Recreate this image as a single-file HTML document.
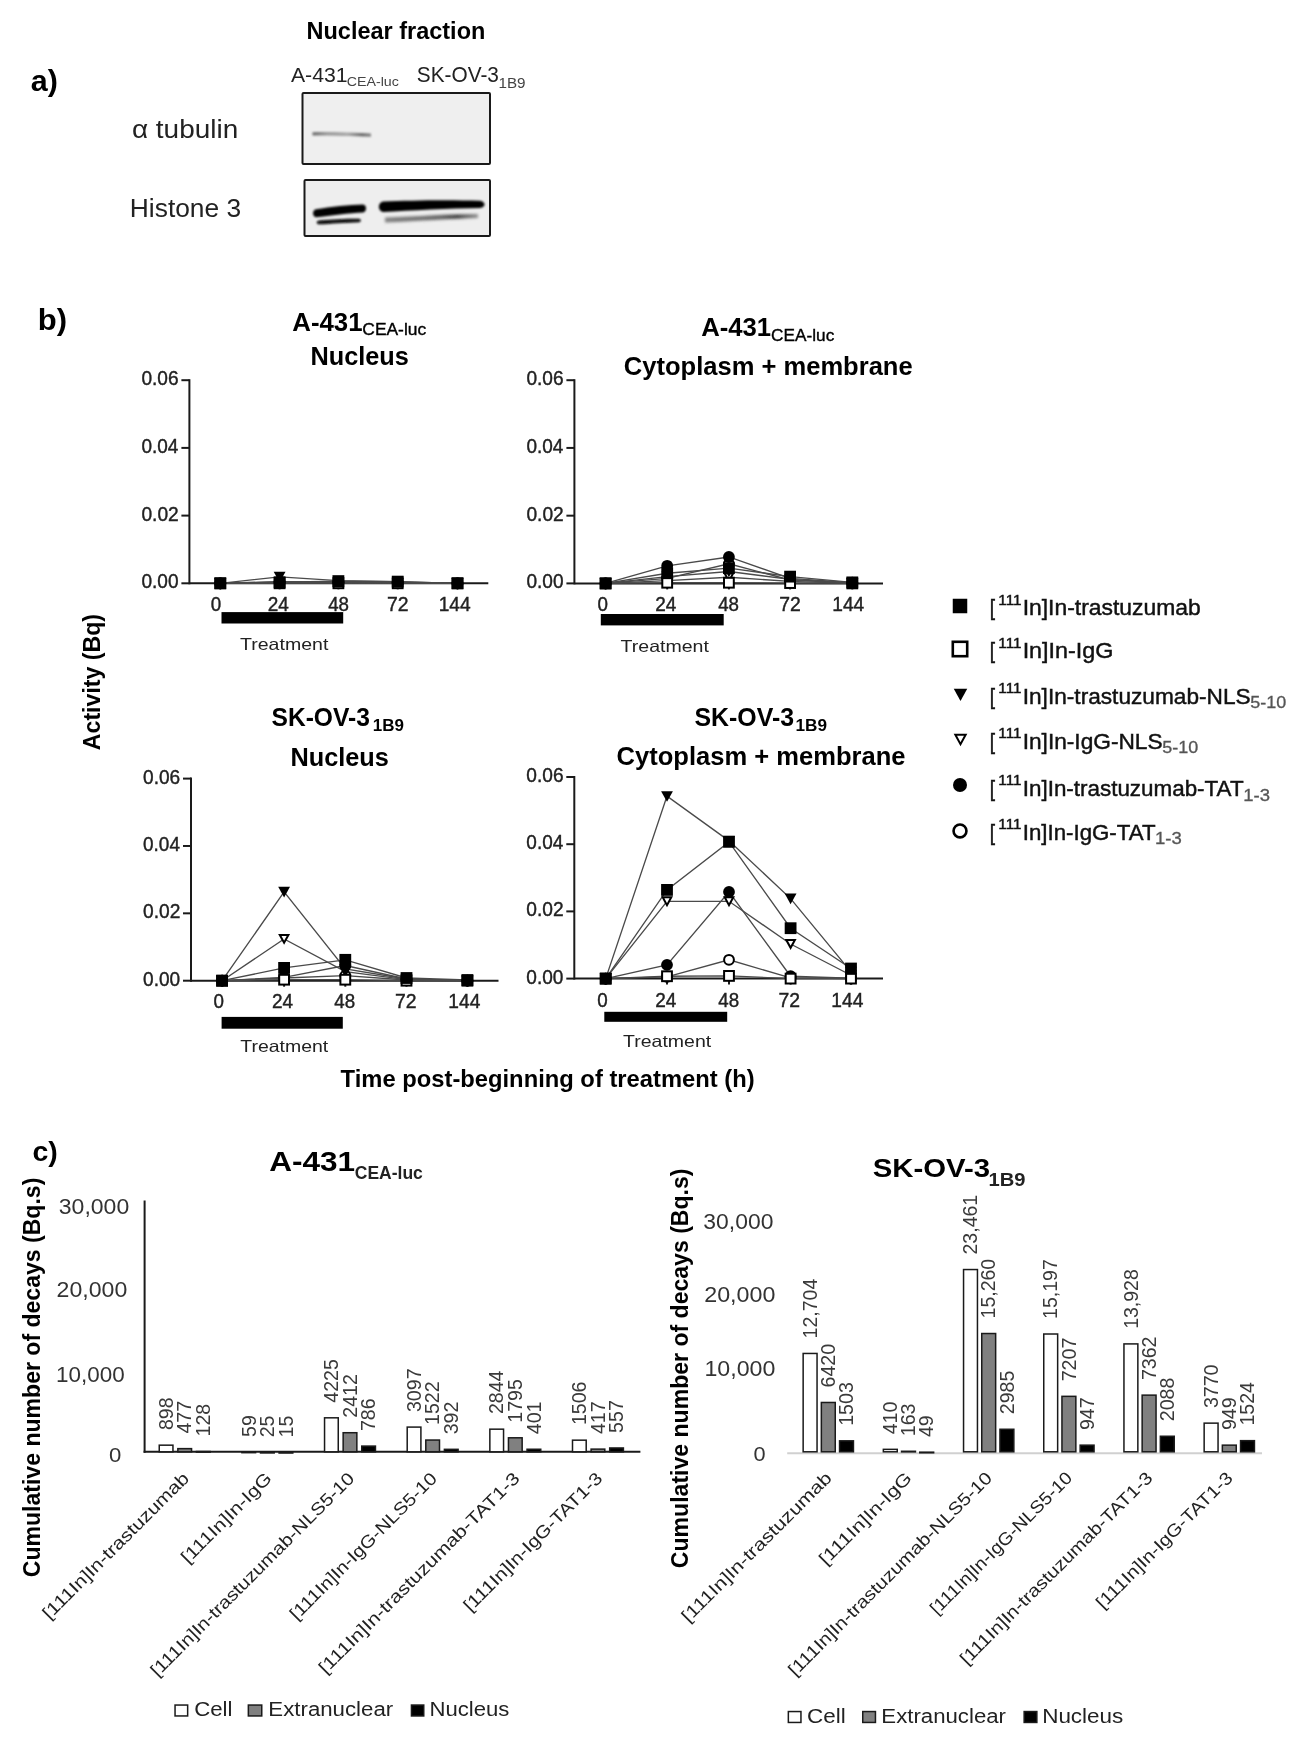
<!DOCTYPE html><html><head><meta charset="utf-8"><style>html,body{margin:0;padding:0;background:#fff;}svg{display:block;filter:grayscale(1)}text{font-family:"Liberation Sans", sans-serif;}</style></head><body>
<svg width="1307" height="1751" viewBox="0 0 1307 1751">
<defs><filter id="b1" x="-20%" y="-100%" width="140%" height="300%"><feGaussianBlur stdDeviation="1.2"/></filter><filter id="b2" x="-20%" y="-100%" width="140%" height="300%"><feGaussianBlur stdDeviation="0.8"/></filter><filter id="b3" x="-20%" y="-100%" width="140%" height="300%"><feGaussianBlur stdDeviation="1.25"/></filter><filter id="b4" x="-20%" y="-100%" width="140%" height="300%"><feGaussianBlur stdDeviation="1.6"/></filter></defs>
<rect width="1307" height="1751" fill="#fff"/>
<text x="306.53" y="38.70" font-size="23.5" font-weight="bold" fill="#000" textLength="178.83" lengthAdjust="spacingAndGlyphs">Nuclear fraction</text>
<text x="30.81" y="90.80" font-size="29.5" font-weight="bold" fill="#000" textLength="27.11" lengthAdjust="spacingAndGlyphs">a)</text>
<text x="290.96" y="81.60" font-size="20.3" fill="#222" textLength="56.68" lengthAdjust="spacingAndGlyphs">A-431</text>
<text x="346.78" y="85.60" font-size="13.5" fill="#444" textLength="52.10" lengthAdjust="spacingAndGlyphs">CEA-luc</text>
<text x="416.77" y="82.20" font-size="21.5" fill="#222" textLength="82.13" lengthAdjust="spacingAndGlyphs">SK-OV-3</text>
<text x="498.44" y="87.60" font-size="14" fill="#444" textLength="27.08" lengthAdjust="spacingAndGlyphs">1B9</text>
<text x="131.93" y="138.30" font-size="26" fill="#222" textLength="106.29" lengthAdjust="spacingAndGlyphs">α tubulin</text>
<text x="129.84" y="217.00" font-size="25.3" fill="#222" textLength="111.32" lengthAdjust="spacingAndGlyphs">Histone 3</text>
<rect x="302.5" y="93" width="187.5" height="71" fill="#efefef" stroke="#1a1a1a" stroke-width="2" rx="1"/>
<rect x="304.5" y="180" width="185.5" height="56" fill="#eeeeee" stroke="#1a1a1a" stroke-width="2" rx="1"/>
<defs><linearGradient id="tg" x1="0" x2="1" y1="0" y2="0"><stop offset="0" stop-color="#6a6a6a"/><stop offset="0.25" stop-color="#9a9a9a"/><stop offset="0.6" stop-color="#a8a8a8"/><stop offset="0.85" stop-color="#6a6a6a"/><stop offset="1" stop-color="#888"/></linearGradient><linearGradient id="lg2" x1="0" x2="1" y1="0" y2="0"><stop offset="0" stop-color="#777"/><stop offset="0.6" stop-color="#555"/><stop offset="0.78" stop-color="#2a2a2a"/><stop offset="1" stop-color="#888"/></linearGradient></defs>
<g filter="url(#b1)"><path d="M312.5,132.2 C330,131.8 355,132.6 371,133.6 L371,136.8 C355,136.4 330,135.8 312.5,135.6 Z" fill="url(#tg)"/></g>
<g filter="url(#b3)"><path d="M316,209.2 C330,206.8 350,204.6 363,204.4 C367,204.7 367,212 363,212.4 C350,213 330,215.5 316,217.3 C312,216.3 312,210.2 316,209.2 Z" fill="#000"/><path d="M319,220.4 C335,219.2 350,218.6 359,218.8 C361.5,219.2 361.5,222 359,222.2 C345,222.8 330,223.8 319,224.3 C316,223.9 316,220.8 319,220.4 Z" fill="#080808"/><path d="M383,201.5 C410,200.3 450,199.5 480,200.8 C486,201.5 486,207.8 480,208 C450,208.3 410,210.5 383,212 C377.5,211 377.5,202.5 383,201.5 Z" fill="#000"/></g>
<g filter="url(#b4)"><path d="M385,217.6 C420,216.2 450,214.2 478,214.0 L478,218.0 C450,218.6 420,221.0 385,222.6 Z" fill="url(#lg2)" opacity="0.9"/></g>
<text x="37.85" y="330.00" font-size="30" font-weight="bold" fill="#000" textLength="29.29" lengthAdjust="spacingAndGlyphs">b)</text>
<line x1="189.4" y1="379.2" x2="189.4" y2="584.3" stroke="#1a1a1a" stroke-width="2"/>
<line x1="181.4" y1="583.30" x2="189.4" y2="583.30" stroke="#1a1a1a" stroke-width="2"/>
<text x="141.46" y="588.30" font-size="19.5" fill="#222" textLength="37.09" lengthAdjust="spacingAndGlyphs" stroke="#222" stroke-width="0.4">0.00</text>
<line x1="181.4" y1="515.60" x2="189.4" y2="515.60" stroke="#1a1a1a" stroke-width="2"/>
<text x="141.45" y="520.60" font-size="19.5" fill="#222" textLength="37.31" lengthAdjust="spacingAndGlyphs" stroke="#222" stroke-width="0.4">0.02</text>
<line x1="181.4" y1="447.90" x2="189.4" y2="447.90" stroke="#1a1a1a" stroke-width="2"/>
<text x="141.46" y="452.90" font-size="19.5" fill="#222" textLength="36.90" lengthAdjust="spacingAndGlyphs" stroke="#222" stroke-width="0.4">0.04</text>
<line x1="181.4" y1="380.20" x2="189.4" y2="380.20" stroke="#1a1a1a" stroke-width="2"/>
<text x="141.45" y="385.20" font-size="19.5" fill="#222" textLength="37.19" lengthAdjust="spacingAndGlyphs" stroke="#222" stroke-width="0.4">0.06</text>
<line x1="189.4" y1="583.3" x2="488.3" y2="583.3" stroke="#1a1a1a" stroke-width="2"/>
<line x1="220.3" y1="583.3" x2="220.3" y2="589.3" stroke="#1a1a1a" stroke-width="2"/>
<line x1="279.6" y1="583.3" x2="279.6" y2="589.3" stroke="#1a1a1a" stroke-width="2"/>
<line x1="338.4" y1="583.3" x2="338.4" y2="589.3" stroke="#1a1a1a" stroke-width="2"/>
<line x1="397.7" y1="583.3" x2="397.7" y2="589.3" stroke="#1a1a1a" stroke-width="2"/>
<line x1="457.5" y1="583.3" x2="457.5" y2="589.3" stroke="#1a1a1a" stroke-width="2"/>
<text x="210.76" y="611.20" font-size="19.5" fill="#222" textLength="10.47" lengthAdjust="spacingAndGlyphs" stroke="#222" stroke-width="0.4">0</text>
<text x="267.65" y="611.20" font-size="19.5" fill="#222" textLength="21.11" lengthAdjust="spacingAndGlyphs" stroke="#222" stroke-width="0.4">24</text>
<text x="328.17" y="611.20" font-size="19.5" fill="#222" textLength="20.84" lengthAdjust="spacingAndGlyphs" stroke="#222" stroke-width="0.4">48</text>
<text x="386.91" y="611.20" font-size="19.5" fill="#222" textLength="21.57" lengthAdjust="spacingAndGlyphs" stroke="#222" stroke-width="0.4">72</text>
<text x="438.64" y="611.20" font-size="19.5" fill="#222" textLength="32.02" lengthAdjust="spacingAndGlyphs" stroke="#222" stroke-width="0.4">144</text>
<polyline points="220.30,583.30 279.60,582.28 338.40,581.27 397.70,581.61 457.50,583.30" fill="none" stroke="#4a4a4a" stroke-width="1.35"/>
<polyline points="220.30,583.30 279.60,583.30 338.40,583.30 397.70,583.30 457.50,583.30" fill="none" stroke="#4a4a4a" stroke-width="1.35"/>
<polyline points="220.30,583.30 279.60,576.87 338.40,580.59 397.70,581.61 457.50,583.30" fill="none" stroke="#4a4a4a" stroke-width="1.35"/>
<polyline points="220.30,583.30 279.60,582.28 338.40,582.62 397.70,582.96 457.50,583.30" fill="none" stroke="#4a4a4a" stroke-width="1.35"/>
<polyline points="220.30,583.30 279.60,581.61 338.40,581.95 397.70,582.62 457.50,583.30" fill="none" stroke="#4a4a4a" stroke-width="1.35"/>
<polyline points="220.30,583.30 279.60,582.62 338.40,582.62 397.70,582.96 457.50,583.30" fill="none" stroke="#4a4a4a" stroke-width="1.35"/>
<circle cx="220.30" cy="583.30" r="4.9" fill="#fff" stroke="#000" stroke-width="2"/>
<circle cx="279.60" cy="582.62" r="4.9" fill="#fff" stroke="#000" stroke-width="2"/>
<circle cx="338.40" cy="582.62" r="4.9" fill="#fff" stroke="#000" stroke-width="2"/>
<circle cx="397.70" cy="582.96" r="4.9" fill="#fff" stroke="#000" stroke-width="2"/>
<circle cx="457.50" cy="583.30" r="4.9" fill="#fff" stroke="#000" stroke-width="2"/>
<circle cx="220.30" cy="583.30" r="5.9" fill="#000"/>
<circle cx="279.60" cy="581.61" r="5.9" fill="#000"/>
<circle cx="338.40" cy="581.95" r="5.9" fill="#000"/>
<circle cx="397.70" cy="582.62" r="5.9" fill="#000"/>
<circle cx="457.50" cy="583.30" r="5.9" fill="#000"/>
<path d="M216.00,579.28 L224.60,579.28 L220.30,587.11 Z" fill="#fff" stroke="#000" stroke-width="2" stroke-linejoin="miter"/>
<path d="M275.30,578.27 L283.90,578.27 L279.60,586.09 Z" fill="#fff" stroke="#000" stroke-width="2" stroke-linejoin="miter"/>
<path d="M334.10,578.61 L342.70,578.61 L338.40,586.43 Z" fill="#fff" stroke="#000" stroke-width="2" stroke-linejoin="miter"/>
<path d="M393.40,578.95 L402.00,578.95 L397.70,586.77 Z" fill="#fff" stroke="#000" stroke-width="2" stroke-linejoin="miter"/>
<path d="M453.20,579.28 L461.80,579.28 L457.50,587.11 Z" fill="#fff" stroke="#000" stroke-width="2" stroke-linejoin="miter"/>
<path d="M214.40,578.28 L226.20,578.28 L220.30,588.90 Z" fill="#000"/>
<path d="M273.70,571.85 L285.50,571.85 L279.60,582.47 Z" fill="#000"/>
<path d="M332.50,575.58 L344.30,575.58 L338.40,586.20 Z" fill="#000"/>
<path d="M391.80,576.59 L403.60,576.59 L397.70,587.21 Z" fill="#000"/>
<path d="M451.60,578.28 L463.40,578.28 L457.50,588.90 Z" fill="#000"/>
<rect x="215.40" y="578.40" width="9.8" height="9.8" fill="#fff" stroke="#000" stroke-width="2"/>
<rect x="274.70" y="578.40" width="9.8" height="9.8" fill="#fff" stroke="#000" stroke-width="2"/>
<rect x="333.50" y="578.40" width="9.8" height="9.8" fill="#fff" stroke="#000" stroke-width="2"/>
<rect x="392.80" y="578.40" width="9.8" height="9.8" fill="#fff" stroke="#000" stroke-width="2"/>
<rect x="452.60" y="578.40" width="9.8" height="9.8" fill="#fff" stroke="#000" stroke-width="2"/>
<rect x="214.40" y="577.40" width="11.8" height="11.8" fill="#000"/>
<rect x="273.70" y="576.38" width="11.8" height="11.8" fill="#000"/>
<rect x="332.50" y="575.37" width="11.8" height="11.8" fill="#000"/>
<rect x="391.80" y="575.71" width="11.8" height="11.8" fill="#000"/>
<rect x="451.60" y="577.40" width="11.8" height="11.8" fill="#000"/>
<rect x="221.5" y="612.1" width="121.70" height="11.40" fill="#000"/>
<text x="240.06" y="649.60" font-size="16.5" fill="#222" textLength="88.28" lengthAdjust="spacingAndGlyphs">Treatment</text>
<line x1="574.4" y1="379.2" x2="574.4" y2="584.4" stroke="#1a1a1a" stroke-width="2"/>
<line x1="566.4" y1="583.40" x2="574.4" y2="583.40" stroke="#1a1a1a" stroke-width="2"/>
<text x="526.46" y="588.40" font-size="19.5" fill="#222" textLength="37.09" lengthAdjust="spacingAndGlyphs" stroke="#222" stroke-width="0.4">0.00</text>
<line x1="566.4" y1="515.67" x2="574.4" y2="515.67" stroke="#1a1a1a" stroke-width="2"/>
<text x="526.45" y="520.67" font-size="19.5" fill="#222" textLength="37.31" lengthAdjust="spacingAndGlyphs" stroke="#222" stroke-width="0.4">0.02</text>
<line x1="566.4" y1="447.93" x2="574.4" y2="447.93" stroke="#1a1a1a" stroke-width="2"/>
<text x="526.46" y="452.93" font-size="19.5" fill="#222" textLength="36.90" lengthAdjust="spacingAndGlyphs" stroke="#222" stroke-width="0.4">0.04</text>
<line x1="566.4" y1="380.20" x2="574.4" y2="380.20" stroke="#1a1a1a" stroke-width="2"/>
<text x="526.45" y="385.20" font-size="19.5" fill="#222" textLength="37.19" lengthAdjust="spacingAndGlyphs" stroke="#222" stroke-width="0.4">0.06</text>
<line x1="574.4" y1="583.4" x2="883" y2="583.4" stroke="#1a1a1a" stroke-width="2"/>
<line x1="605.6" y1="583.4" x2="605.6" y2="589.4" stroke="#1a1a1a" stroke-width="2"/>
<line x1="667.2" y1="583.4" x2="667.2" y2="589.4" stroke="#1a1a1a" stroke-width="2"/>
<line x1="728.9" y1="583.4" x2="728.9" y2="589.4" stroke="#1a1a1a" stroke-width="2"/>
<line x1="790.1" y1="583.4" x2="790.1" y2="589.4" stroke="#1a1a1a" stroke-width="2"/>
<line x1="852.3" y1="583.4" x2="852.3" y2="589.4" stroke="#1a1a1a" stroke-width="2"/>
<text x="597.46" y="610.70" font-size="19.5" fill="#222" textLength="10.47" lengthAdjust="spacingAndGlyphs" stroke="#222" stroke-width="0.4">0</text>
<text x="655.25" y="610.70" font-size="19.5" fill="#222" textLength="21.11" lengthAdjust="spacingAndGlyphs" stroke="#222" stroke-width="0.4">24</text>
<text x="718.17" y="610.70" font-size="19.5" fill="#222" textLength="20.84" lengthAdjust="spacingAndGlyphs" stroke="#222" stroke-width="0.4">48</text>
<text x="779.31" y="610.70" font-size="19.5" fill="#222" textLength="21.57" lengthAdjust="spacingAndGlyphs" stroke="#222" stroke-width="0.4">72</text>
<text x="832.24" y="610.70" font-size="19.5" fill="#222" textLength="32.02" lengthAdjust="spacingAndGlyphs" stroke="#222" stroke-width="0.4">144</text>
<polyline points="605.60,583.40 667.20,573.24 728.90,568.16 790.10,576.63 852.30,582.38" fill="none" stroke="#4a4a4a" stroke-width="1.35"/>
<polyline points="605.60,583.40 667.20,582.72 728.90,582.72 790.10,583.06 852.30,583.40" fill="none" stroke="#4a4a4a" stroke-width="1.35"/>
<polyline points="605.60,583.40 667.20,576.63 728.90,571.55 790.10,579.34 852.30,583.06" fill="none" stroke="#4a4a4a" stroke-width="1.35"/>
<polyline points="605.60,583.40 667.20,580.69 728.90,577.30 790.10,581.37 852.30,583.40" fill="none" stroke="#4a4a4a" stroke-width="1.35"/>
<polyline points="605.60,583.40 667.20,565.79 728.90,556.98 790.10,578.32 852.30,582.72" fill="none" stroke="#4a4a4a" stroke-width="1.35"/>
<polyline points="605.60,583.40 667.20,578.32 728.90,563.76 790.10,580.01 852.30,583.06" fill="none" stroke="#4a4a4a" stroke-width="1.35"/>
<circle cx="605.60" cy="583.40" r="4.9" fill="#fff" stroke="#000" stroke-width="2"/>
<circle cx="667.20" cy="578.32" r="4.9" fill="#fff" stroke="#000" stroke-width="2"/>
<circle cx="728.90" cy="563.76" r="4.9" fill="#fff" stroke="#000" stroke-width="2"/>
<circle cx="790.10" cy="580.01" r="4.9" fill="#fff" stroke="#000" stroke-width="2"/>
<circle cx="852.30" cy="583.06" r="4.9" fill="#fff" stroke="#000" stroke-width="2"/>
<circle cx="605.60" cy="583.40" r="5.9" fill="#000"/>
<circle cx="667.20" cy="565.79" r="5.9" fill="#000"/>
<circle cx="728.90" cy="556.98" r="5.9" fill="#000"/>
<circle cx="790.10" cy="578.32" r="5.9" fill="#000"/>
<circle cx="852.30" cy="582.72" r="5.9" fill="#000"/>
<path d="M601.30,579.38 L609.90,579.38 L605.60,587.21 Z" fill="#fff" stroke="#000" stroke-width="2" stroke-linejoin="miter"/>
<path d="M662.90,576.68 L671.50,576.68 L667.20,584.50 Z" fill="#fff" stroke="#000" stroke-width="2" stroke-linejoin="miter"/>
<path d="M724.60,573.29 L733.20,573.29 L728.90,581.11 Z" fill="#fff" stroke="#000" stroke-width="2" stroke-linejoin="miter"/>
<path d="M785.80,577.35 L794.40,577.35 L790.10,585.17 Z" fill="#fff" stroke="#000" stroke-width="2" stroke-linejoin="miter"/>
<path d="M848.00,579.38 L856.60,579.38 L852.30,587.21 Z" fill="#fff" stroke="#000" stroke-width="2" stroke-linejoin="miter"/>
<path d="M599.70,578.38 L611.50,578.38 L605.60,589.00 Z" fill="#000"/>
<path d="M661.30,571.61 L673.10,571.61 L667.20,582.23 Z" fill="#000"/>
<path d="M723.00,566.53 L734.80,566.53 L728.90,577.15 Z" fill="#000"/>
<path d="M784.20,574.32 L796.00,574.32 L790.10,584.94 Z" fill="#000"/>
<path d="M846.40,578.05 L858.20,578.05 L852.30,588.67 Z" fill="#000"/>
<rect x="600.70" y="578.50" width="9.8" height="9.8" fill="#fff" stroke="#000" stroke-width="2"/>
<rect x="662.30" y="577.82" width="9.8" height="9.8" fill="#fff" stroke="#000" stroke-width="2"/>
<rect x="724.00" y="577.82" width="9.8" height="9.8" fill="#fff" stroke="#000" stroke-width="2"/>
<rect x="785.20" y="578.16" width="9.8" height="9.8" fill="#fff" stroke="#000" stroke-width="2"/>
<rect x="847.40" y="578.50" width="9.8" height="9.8" fill="#fff" stroke="#000" stroke-width="2"/>
<rect x="599.70" y="577.50" width="11.8" height="11.8" fill="#000"/>
<rect x="661.30" y="567.34" width="11.8" height="11.8" fill="#000"/>
<rect x="723.00" y="562.26" width="11.8" height="11.8" fill="#000"/>
<rect x="784.20" y="570.73" width="11.8" height="11.8" fill="#000"/>
<rect x="846.40" y="576.48" width="11.8" height="11.8" fill="#000"/>
<rect x="600.8" y="614" width="122.90" height="11.40" fill="#000"/>
<text x="620.56" y="651.50" font-size="16.5" fill="#222" textLength="88.38" lengthAdjust="spacingAndGlyphs">Treatment</text>
<line x1="191" y1="777.6" x2="191" y2="981.7" stroke="#1a1a1a" stroke-width="2"/>
<line x1="183" y1="980.70" x2="191" y2="980.70" stroke="#1a1a1a" stroke-width="2"/>
<text x="143.06" y="985.70" font-size="19.5" fill="#222" textLength="37.09" lengthAdjust="spacingAndGlyphs" stroke="#222" stroke-width="0.4">0.00</text>
<line x1="183" y1="913.33" x2="191" y2="913.33" stroke="#1a1a1a" stroke-width="2"/>
<text x="143.05" y="918.33" font-size="19.5" fill="#222" textLength="37.31" lengthAdjust="spacingAndGlyphs" stroke="#222" stroke-width="0.4">0.02</text>
<line x1="183" y1="845.97" x2="191" y2="845.97" stroke="#1a1a1a" stroke-width="2"/>
<text x="143.06" y="850.97" font-size="19.5" fill="#222" textLength="36.90" lengthAdjust="spacingAndGlyphs" stroke="#222" stroke-width="0.4">0.04</text>
<line x1="183" y1="778.60" x2="191" y2="778.60" stroke="#1a1a1a" stroke-width="2"/>
<text x="143.05" y="783.60" font-size="19.5" fill="#222" textLength="37.19" lengthAdjust="spacingAndGlyphs" stroke="#222" stroke-width="0.4">0.06</text>
<line x1="191" y1="980.7" x2="498.5" y2="980.7" stroke="#1a1a1a" stroke-width="2"/>
<line x1="222.1" y1="980.7" x2="222.1" y2="986.7" stroke="#1a1a1a" stroke-width="2"/>
<line x1="284.1" y1="980.7" x2="284.1" y2="986.7" stroke="#1a1a1a" stroke-width="2"/>
<line x1="345.3" y1="980.7" x2="345.3" y2="986.7" stroke="#1a1a1a" stroke-width="2"/>
<line x1="406.5" y1="980.7" x2="406.5" y2="986.7" stroke="#1a1a1a" stroke-width="2"/>
<line x1="467.4" y1="980.7" x2="467.4" y2="986.7" stroke="#1a1a1a" stroke-width="2"/>
<text x="213.46" y="1008.40" font-size="19.5" fill="#222" textLength="10.47" lengthAdjust="spacingAndGlyphs" stroke="#222" stroke-width="0.4">0</text>
<text x="272.05" y="1008.40" font-size="19.5" fill="#222" textLength="21.11" lengthAdjust="spacingAndGlyphs" stroke="#222" stroke-width="0.4">24</text>
<text x="334.27" y="1008.40" font-size="19.5" fill="#222" textLength="20.84" lengthAdjust="spacingAndGlyphs" stroke="#222" stroke-width="0.4">48</text>
<text x="395.01" y="1008.40" font-size="19.5" fill="#222" textLength="21.57" lengthAdjust="spacingAndGlyphs" stroke="#222" stroke-width="0.4">72</text>
<text x="448.34" y="1008.40" font-size="19.5" fill="#222" textLength="32.02" lengthAdjust="spacingAndGlyphs" stroke="#222" stroke-width="0.4">144</text>
<polyline points="222.10,980.70 284.10,967.90 345.30,959.82 406.50,978.01 467.40,980.03" fill="none" stroke="#4a4a4a" stroke-width="1.35"/>
<polyline points="222.10,980.70 284.10,979.69 345.30,979.69 406.50,980.70 467.40,980.70" fill="none" stroke="#4a4a4a" stroke-width="1.35"/>
<polyline points="222.10,980.70 284.10,891.78 345.30,968.91 406.50,979.02 467.40,980.70" fill="none" stroke="#4a4a4a" stroke-width="1.35"/>
<polyline points="222.10,980.70 284.10,938.93 345.30,971.61 406.50,979.69 467.40,980.70" fill="none" stroke="#4a4a4a" stroke-width="1.35"/>
<polyline points="222.10,980.70 284.10,977.33 345.30,965.54 406.50,979.02 467.40,980.70" fill="none" stroke="#4a4a4a" stroke-width="1.35"/>
<polyline points="222.10,980.70 284.10,978.01 345.30,975.65 406.50,980.03 467.40,980.70" fill="none" stroke="#4a4a4a" stroke-width="1.35"/>
<circle cx="222.10" cy="980.70" r="4.9" fill="#fff" stroke="#000" stroke-width="2"/>
<circle cx="284.10" cy="978.01" r="4.9" fill="#fff" stroke="#000" stroke-width="2"/>
<circle cx="345.30" cy="975.65" r="4.9" fill="#fff" stroke="#000" stroke-width="2"/>
<circle cx="406.50" cy="980.03" r="4.9" fill="#fff" stroke="#000" stroke-width="2"/>
<circle cx="467.40" cy="980.70" r="4.9" fill="#fff" stroke="#000" stroke-width="2"/>
<circle cx="222.10" cy="980.70" r="5.9" fill="#000"/>
<circle cx="284.10" cy="977.33" r="5.9" fill="#000"/>
<circle cx="345.30" cy="965.54" r="5.9" fill="#000"/>
<circle cx="406.50" cy="979.02" r="5.9" fill="#000"/>
<circle cx="467.40" cy="980.70" r="5.9" fill="#000"/>
<path d="M217.80,976.69 L226.40,976.69 L222.10,984.51 Z" fill="#fff" stroke="#000" stroke-width="2" stroke-linejoin="miter"/>
<path d="M279.80,934.92 L288.40,934.92 L284.10,942.74 Z" fill="#fff" stroke="#000" stroke-width="2" stroke-linejoin="miter"/>
<path d="M341.00,967.59 L349.60,967.59 L345.30,975.41 Z" fill="#fff" stroke="#000" stroke-width="2" stroke-linejoin="miter"/>
<path d="M402.20,975.67 L410.80,975.67 L406.50,983.49 Z" fill="#fff" stroke="#000" stroke-width="2" stroke-linejoin="miter"/>
<path d="M463.10,976.69 L471.70,976.69 L467.40,984.51 Z" fill="#fff" stroke="#000" stroke-width="2" stroke-linejoin="miter"/>
<path d="M216.20,975.69 L228.00,975.69 L222.10,986.31 Z" fill="#000"/>
<path d="M278.20,886.76 L290.00,886.76 L284.10,897.38 Z" fill="#000"/>
<path d="M339.40,963.90 L351.20,963.90 L345.30,974.52 Z" fill="#000"/>
<path d="M400.60,974.00 L412.40,974.00 L406.50,984.62 Z" fill="#000"/>
<path d="M461.50,975.69 L473.30,975.69 L467.40,986.31 Z" fill="#000"/>
<rect x="217.20" y="975.80" width="9.8" height="9.8" fill="#fff" stroke="#000" stroke-width="2"/>
<rect x="279.20" y="974.79" width="9.8" height="9.8" fill="#fff" stroke="#000" stroke-width="2"/>
<rect x="340.40" y="974.79" width="9.8" height="9.8" fill="#fff" stroke="#000" stroke-width="2"/>
<rect x="401.60" y="975.80" width="9.8" height="9.8" fill="#fff" stroke="#000" stroke-width="2"/>
<rect x="462.50" y="975.80" width="9.8" height="9.8" fill="#fff" stroke="#000" stroke-width="2"/>
<rect x="216.20" y="974.80" width="11.8" height="11.8" fill="#000"/>
<rect x="278.20" y="962.00" width="11.8" height="11.8" fill="#000"/>
<rect x="339.40" y="953.92" width="11.8" height="11.8" fill="#000"/>
<rect x="400.60" y="972.11" width="11.8" height="11.8" fill="#000"/>
<rect x="461.50" y="974.13" width="11.8" height="11.8" fill="#000"/>
<rect x="221.6" y="1016.9" width="121.20" height="11.80" fill="#000"/>
<text x="240.27" y="1052.40" font-size="16.5" fill="#222" textLength="87.98" lengthAdjust="spacingAndGlyphs">Treatment</text>
<line x1="574.3" y1="776" x2="574.3" y2="979.6" stroke="#1a1a1a" stroke-width="2"/>
<line x1="566.3" y1="978.60" x2="574.3" y2="978.60" stroke="#1a1a1a" stroke-width="2"/>
<text x="526.36" y="983.60" font-size="19.5" fill="#222" textLength="37.09" lengthAdjust="spacingAndGlyphs" stroke="#222" stroke-width="0.4">0.00</text>
<line x1="566.3" y1="911.40" x2="574.3" y2="911.40" stroke="#1a1a1a" stroke-width="2"/>
<text x="526.35" y="916.40" font-size="19.5" fill="#222" textLength="37.31" lengthAdjust="spacingAndGlyphs" stroke="#222" stroke-width="0.4">0.02</text>
<line x1="566.3" y1="844.20" x2="574.3" y2="844.20" stroke="#1a1a1a" stroke-width="2"/>
<text x="526.36" y="849.20" font-size="19.5" fill="#222" textLength="36.90" lengthAdjust="spacingAndGlyphs" stroke="#222" stroke-width="0.4">0.04</text>
<line x1="566.3" y1="777.00" x2="574.3" y2="777.00" stroke="#1a1a1a" stroke-width="2"/>
<text x="526.35" y="782.00" font-size="19.5" fill="#222" textLength="37.19" lengthAdjust="spacingAndGlyphs" stroke="#222" stroke-width="0.4">0.06</text>
<line x1="574.3" y1="978.6" x2="883" y2="978.6" stroke="#1a1a1a" stroke-width="2"/>
<line x1="605.7" y1="978.6" x2="605.7" y2="984.6" stroke="#1a1a1a" stroke-width="2"/>
<line x1="667" y1="978.6" x2="667" y2="984.6" stroke="#1a1a1a" stroke-width="2"/>
<line x1="729" y1="978.6" x2="729" y2="984.6" stroke="#1a1a1a" stroke-width="2"/>
<line x1="790.6" y1="978.6" x2="790.6" y2="984.6" stroke="#1a1a1a" stroke-width="2"/>
<line x1="851" y1="978.6" x2="851" y2="984.6" stroke="#1a1a1a" stroke-width="2"/>
<text x="597.26" y="1006.50" font-size="19.5" fill="#222" textLength="10.47" lengthAdjust="spacingAndGlyphs" stroke="#222" stroke-width="0.4">0</text>
<text x="655.25" y="1006.50" font-size="19.5" fill="#222" textLength="21.11" lengthAdjust="spacingAndGlyphs" stroke="#222" stroke-width="0.4">24</text>
<text x="718.37" y="1006.50" font-size="19.5" fill="#222" textLength="20.84" lengthAdjust="spacingAndGlyphs" stroke="#222" stroke-width="0.4">48</text>
<text x="778.41" y="1006.50" font-size="19.5" fill="#222" textLength="21.57" lengthAdjust="spacingAndGlyphs" stroke="#222" stroke-width="0.4">72</text>
<text x="831.34" y="1006.50" font-size="19.5" fill="#222" textLength="32.02" lengthAdjust="spacingAndGlyphs" stroke="#222" stroke-width="0.4">144</text>
<polyline points="605.70,978.60 667.00,889.90 729.00,841.85 790.60,928.20 851.00,968.52" fill="none" stroke="#4a4a4a" stroke-width="1.35"/>
<polyline points="605.70,978.60 667.00,976.25 729.00,975.91 790.60,978.60 851.00,978.60" fill="none" stroke="#4a4a4a" stroke-width="1.35"/>
<polyline points="605.70,978.60 667.00,796.15 729.00,840.84 790.60,898.63 851.00,971.88" fill="none" stroke="#4a4a4a" stroke-width="1.35"/>
<polyline points="605.70,978.60 667.00,901.32 729.00,901.32 790.60,943.99 851.00,975.24" fill="none" stroke="#4a4a4a" stroke-width="1.35"/>
<polyline points="605.70,978.60 667.00,964.82 729.00,891.91 790.60,976.25 851.00,978.26" fill="none" stroke="#4a4a4a" stroke-width="1.35"/>
<polyline points="605.70,978.60 667.00,976.92 729.00,959.78 790.60,977.93 851.00,978.60" fill="none" stroke="#4a4a4a" stroke-width="1.35"/>
<circle cx="605.70" cy="978.60" r="4.9" fill="#fff" stroke="#000" stroke-width="2"/>
<circle cx="667.00" cy="976.92" r="4.9" fill="#fff" stroke="#000" stroke-width="2"/>
<circle cx="729.00" cy="959.78" r="4.9" fill="#fff" stroke="#000" stroke-width="2"/>
<circle cx="790.60" cy="977.93" r="4.9" fill="#fff" stroke="#000" stroke-width="2"/>
<circle cx="851.00" cy="978.60" r="4.9" fill="#fff" stroke="#000" stroke-width="2"/>
<circle cx="605.70" cy="978.60" r="5.9" fill="#000"/>
<circle cx="667.00" cy="964.82" r="5.9" fill="#000"/>
<circle cx="729.00" cy="891.91" r="5.9" fill="#000"/>
<circle cx="790.60" cy="976.25" r="5.9" fill="#000"/>
<circle cx="851.00" cy="978.26" r="5.9" fill="#000"/>
<path d="M601.40,974.59 L610.00,974.59 L605.70,982.41 Z" fill="#fff" stroke="#000" stroke-width="2" stroke-linejoin="miter"/>
<path d="M662.70,897.31 L671.30,897.31 L667.00,905.13 Z" fill="#fff" stroke="#000" stroke-width="2" stroke-linejoin="miter"/>
<path d="M724.70,897.31 L733.30,897.31 L729.00,905.13 Z" fill="#fff" stroke="#000" stroke-width="2" stroke-linejoin="miter"/>
<path d="M786.30,939.98 L794.90,939.98 L790.60,947.80 Z" fill="#fff" stroke="#000" stroke-width="2" stroke-linejoin="miter"/>
<path d="M846.70,971.23 L855.30,971.23 L851.00,979.05 Z" fill="#fff" stroke="#000" stroke-width="2" stroke-linejoin="miter"/>
<path d="M599.80,973.59 L611.60,973.59 L605.70,984.21 Z" fill="#000"/>
<path d="M661.10,791.14 L672.90,791.14 L667.00,801.76 Z" fill="#000"/>
<path d="M723.10,835.83 L734.90,835.83 L729.00,846.45 Z" fill="#000"/>
<path d="M784.70,893.62 L796.50,893.62 L790.60,904.24 Z" fill="#000"/>
<path d="M845.10,966.87 L856.90,966.87 L851.00,977.49 Z" fill="#000"/>
<rect x="600.80" y="973.70" width="9.8" height="9.8" fill="#fff" stroke="#000" stroke-width="2"/>
<rect x="662.10" y="971.35" width="9.8" height="9.8" fill="#fff" stroke="#000" stroke-width="2"/>
<rect x="724.10" y="971.01" width="9.8" height="9.8" fill="#fff" stroke="#000" stroke-width="2"/>
<rect x="785.70" y="973.70" width="9.8" height="9.8" fill="#fff" stroke="#000" stroke-width="2"/>
<rect x="846.10" y="973.70" width="9.8" height="9.8" fill="#fff" stroke="#000" stroke-width="2"/>
<rect x="599.80" y="972.70" width="11.8" height="11.8" fill="#000"/>
<rect x="661.10" y="884.00" width="11.8" height="11.8" fill="#000"/>
<rect x="723.10" y="835.95" width="11.8" height="11.8" fill="#000"/>
<rect x="784.70" y="922.30" width="11.8" height="11.8" fill="#000"/>
<rect x="845.10" y="962.62" width="11.8" height="11.8" fill="#000"/>
<rect x="604.3" y="1011.8" width="122.90" height="10.00" fill="#000"/>
<text x="623.07" y="1047.40" font-size="16.5" fill="#222" textLength="88.08" lengthAdjust="spacingAndGlyphs">Treatment</text>
<text x="292.26" y="330.70" font-size="25.8" font-weight="bold" fill="#000" textLength="70.26" lengthAdjust="spacingAndGlyphs">A-431</text>
<text x="362.32" y="335.40" font-size="16.5" fill="#000" textLength="63.84" lengthAdjust="spacingAndGlyphs" stroke="#000" stroke-width="0.35">CEA-luc</text>
<text x="310.41" y="365.00" font-size="25.8" font-weight="bold" fill="#000" textLength="98.53" lengthAdjust="spacingAndGlyphs">Nucleus</text>
<text x="701.16" y="336.30" font-size="25.8" font-weight="bold" fill="#000" textLength="69.95" lengthAdjust="spacingAndGlyphs">A-431</text>
<text x="771.13" y="340.80" font-size="16.5" fill="#000" textLength="63.13" lengthAdjust="spacingAndGlyphs" stroke="#000" stroke-width="0.35">CEA-luc</text>
<text x="623.85" y="375.30" font-size="25.8" font-weight="bold" fill="#000" textLength="288.82" lengthAdjust="spacingAndGlyphs">Cytoplasm + membrane</text>
<text x="271.50" y="725.60" font-size="25.8" font-weight="bold" fill="#000" textLength="98.38" lengthAdjust="spacingAndGlyphs">SK-OV-3</text>
<text x="372.73" y="731.10" font-size="17" font-weight="bold" fill="#000" textLength="31.20" lengthAdjust="spacingAndGlyphs">1B9</text>
<text x="290.41" y="765.80" font-size="25.8" font-weight="bold" fill="#000" textLength="98.53" lengthAdjust="spacingAndGlyphs">Nucleus</text>
<text x="694.49" y="725.60" font-size="25.8" font-weight="bold" fill="#000" textLength="99.59" lengthAdjust="spacingAndGlyphs">SK-OV-3</text>
<text x="795.52" y="731.20" font-size="17" font-weight="bold" fill="#000" textLength="31.52" lengthAdjust="spacingAndGlyphs">1B9</text>
<text x="616.55" y="765.00" font-size="25.8" font-weight="bold" fill="#000" textLength="289.02" lengthAdjust="spacingAndGlyphs">Cytoplasm + membrane</text>
<g transform="translate(100.30,749.60) rotate(-90)"><text x="-0.58" y="0" font-size="23.5" font-weight="bold" fill="#000" textLength="136.23" lengthAdjust="spacingAndGlyphs">Activity (Bq)</text></g>
<text x="340.63" y="1086.70" font-size="23.2" font-weight="bold" fill="#000" textLength="413.95" lengthAdjust="spacingAndGlyphs">Time post-beginning of treatment (h)</text>
<rect x="952.75" y="598.75" width="14.5" height="14.5" fill="#000"/>
<text x="989.74" y="615.20" font-size="22.5" fill="#111" textLength="5.31" lengthAdjust="spacingAndGlyphs" stroke="#111" stroke-width="0.45">[</text>
<text x="998.34" y="604.60" font-size="14.5" fill="#111" textLength="23.13" lengthAdjust="spacingAndGlyphs" stroke="#111" stroke-width="0.45">111</text>
<text x="1022.69" y="615.20" font-size="22.5" fill="#111" textLength="177.97" lengthAdjust="spacingAndGlyphs" stroke="#111" stroke-width="0.45">In]In-trastuzumab</text>
<rect x="952.80" y="641.80" width="14.4" height="14.4" fill="#fff" stroke="#000" stroke-width="2.6"/>
<text x="989.74" y="658.20" font-size="22.5" fill="#111" textLength="5.31" lengthAdjust="spacingAndGlyphs" stroke="#111" stroke-width="0.45">[</text>
<text x="998.34" y="647.60" font-size="14.5" fill="#111" textLength="23.13" lengthAdjust="spacingAndGlyphs" stroke="#111" stroke-width="0.45">111</text>
<text x="1022.65" y="658.20" font-size="22.5" fill="#111" textLength="90.80" lengthAdjust="spacingAndGlyphs" stroke="#111" stroke-width="0.45">In]In-IgG</text>
<path d="M953.75,688.76 L967.25,688.76 L960.50,700.91 Z" fill="#000"/>
<text x="989.74" y="703.50" font-size="22.5" fill="#111" textLength="5.31" lengthAdjust="spacingAndGlyphs" stroke="#111" stroke-width="0.45">[</text>
<text x="998.34" y="692.90" font-size="14.5" fill="#111" textLength="23.13" lengthAdjust="spacingAndGlyphs" stroke="#111" stroke-width="0.45">111</text>
<text x="1022.71" y="703.50" font-size="22.5" fill="#111" textLength="227.93" lengthAdjust="spacingAndGlyphs" stroke="#111" stroke-width="0.45">In]In-trastuzumab-NLS</text>
<text x="1250.38" y="708.00" font-size="16" fill="#555" textLength="35.92" lengthAdjust="spacingAndGlyphs" stroke="#555" stroke-width="0.3">5-10</text>
<path d="M955.35,734.76 L965.65,734.76 L960.50,744.11 Z" fill="#fff" stroke="#000" stroke-width="2" stroke-linejoin="miter"/>
<text x="989.74" y="748.50" font-size="22.5" fill="#111" textLength="5.31" lengthAdjust="spacingAndGlyphs" stroke="#111" stroke-width="0.45">[</text>
<text x="998.34" y="737.90" font-size="14.5" fill="#111" textLength="23.13" lengthAdjust="spacingAndGlyphs" stroke="#111" stroke-width="0.45">111</text>
<text x="1022.71" y="748.50" font-size="22.5" fill="#111" textLength="139.83" lengthAdjust="spacingAndGlyphs" stroke="#111" stroke-width="0.45">In]In-IgG-NLS</text>
<text x="1162.28" y="753.00" font-size="16" fill="#555" textLength="35.92" lengthAdjust="spacingAndGlyphs" stroke="#555" stroke-width="0.3">5-10</text>
<circle cx="960" cy="785" r="7" fill="#000"/>
<text x="989.74" y="796.00" font-size="22.5" fill="#111" textLength="5.31" lengthAdjust="spacingAndGlyphs" stroke="#111" stroke-width="0.45">[</text>
<text x="998.34" y="785.40" font-size="14.5" fill="#111" textLength="23.13" lengthAdjust="spacingAndGlyphs" stroke="#111" stroke-width="0.45">111</text>
<text x="1022.76" y="796.00" font-size="22.5" fill="#111" textLength="220.84" lengthAdjust="spacingAndGlyphs" stroke="#111" stroke-width="0.45">In]In-trastuzumab-TAT</text>
<text x="1243.19" y="800.50" font-size="16" fill="#555" textLength="26.72" lengthAdjust="spacingAndGlyphs" stroke="#555" stroke-width="0.3">1-3</text>
<circle cx="960" cy="830.9" r="6.45" fill="#fff" stroke="#000" stroke-width="2.6"/>
<text x="989.74" y="839.50" font-size="22.5" fill="#111" textLength="5.31" lengthAdjust="spacingAndGlyphs" stroke="#111" stroke-width="0.45">[</text>
<text x="998.34" y="828.90" font-size="14.5" fill="#111" textLength="23.13" lengthAdjust="spacingAndGlyphs" stroke="#111" stroke-width="0.45">111</text>
<text x="1022.80" y="839.50" font-size="22.5" fill="#111" textLength="132.70" lengthAdjust="spacingAndGlyphs" stroke="#111" stroke-width="0.45">In]In-IgG-TAT</text>
<text x="1155.09" y="844.00" font-size="16" fill="#555" textLength="26.72" lengthAdjust="spacingAndGlyphs" stroke="#555" stroke-width="0.3">1-3</text>
<text x="32.49" y="1161.00" font-size="28.5" font-weight="bold" fill="#000" textLength="25.33" lengthAdjust="spacingAndGlyphs">c)</text>
<text x="269.21" y="1171.40" font-size="28.5" font-weight="bold" fill="#000" textLength="85.86" lengthAdjust="spacingAndGlyphs">A-431</text>
<text x="354.78" y="1179.40" font-size="17.5" font-weight="bold" fill="#222" textLength="68.03" lengthAdjust="spacingAndGlyphs">CEA-luc</text>
<text x="872.77" y="1177.30" font-size="26.5" font-weight="bold" fill="#000" textLength="117.28" lengthAdjust="spacingAndGlyphs">SK-OV-3</text>
<text x="988.53" y="1186.00" font-size="17.5" font-weight="bold" fill="#222" textLength="37.02" lengthAdjust="spacingAndGlyphs">1B9</text>
<g transform="translate(39.80,1576.30) rotate(-90)"><text x="-0.95" y="0" font-size="23.3" font-weight="bold" fill="#000" textLength="399.59" lengthAdjust="spacingAndGlyphs">Cumulative number of decays (Bq.s)</text></g>
<g transform="translate(687.50,1567.20) rotate(-90)"><text x="-0.95" y="0" font-size="23.3" font-weight="bold" fill="#000" textLength="399.59" lengthAdjust="spacingAndGlyphs">Cumulative number of decays (Bq.s)</text></g>
<line x1="144.6" y1="1200.5" x2="144.6" y2="1452.8" stroke="#1a1a1a" stroke-width="2"/>
<line x1="143.6" y1="1451.8" x2="640.4" y2="1451.8" stroke="#1a1a1a" stroke-width="2"/>
<line x1="787.2" y1="1453.2" x2="1262" y2="1453.2" stroke="#d0d0d0" stroke-width="2"/>
<rect x="159.25" y="1445.17" width="13.70" height="6.63" fill="#ffffff" stroke="#1a1a1a" stroke-width="1.5"/>
<g transform="translate(172.85,1430.12) rotate(-90)"><text x="0" y="0" font-size="19.3" fill="#3a3a3a" textLength="32.70" lengthAdjust="spacingAndGlyphs">898</text></g>
<rect x="177.85" y="1448.63" width="13.70" height="3.17" fill="#808080" stroke="#1a1a1a" stroke-width="1.5"/>
<g transform="translate(191.45,1433.58) rotate(-90)"><text x="0" y="0" font-size="19.3" fill="#3a3a3a" textLength="32.70" lengthAdjust="spacingAndGlyphs">477</text></g>
<rect x="196.45" y="1451.50" width="13.70" height="0.60" fill="#000000" stroke="#1a1a1a" stroke-width="1.5"/>
<g transform="translate(210.05,1436.45) rotate(-90)"><text x="0" y="0" font-size="19.3" fill="#3a3a3a" textLength="32.70" lengthAdjust="spacingAndGlyphs">128</text></g>
<g transform="translate(190.20,1479.50) rotate(-45)"><text x="0" y="0" font-size="17.5" fill="#222" text-anchor="end" textLength="199.0" lengthAdjust="spacingAndGlyphs">[111In]In-trastuzumab</text></g>
<rect x="241.90" y="1452.07" width="13.70" height="0.60" fill="#ffffff" stroke="#1a1a1a" stroke-width="1.5"/>
<g transform="translate(255.50,1437.02) rotate(-90)"><text x="0" y="0" font-size="19.3" fill="#3a3a3a" textLength="21.80" lengthAdjust="spacingAndGlyphs">59</text></g>
<rect x="260.50" y="1452.34" width="13.70" height="0.60" fill="#808080" stroke="#1a1a1a" stroke-width="1.5"/>
<g transform="translate(274.10,1437.29) rotate(-90)"><text x="0" y="0" font-size="19.3" fill="#3a3a3a" textLength="21.80" lengthAdjust="spacingAndGlyphs">25</text></g>
<rect x="279.10" y="1452.43" width="13.70" height="0.60" fill="#000000" stroke="#1a1a1a" stroke-width="1.5"/>
<g transform="translate(292.70,1437.38) rotate(-90)"><text x="0" y="0" font-size="19.3" fill="#3a3a3a" textLength="21.80" lengthAdjust="spacingAndGlyphs">15</text></g>
<g transform="translate(272.85,1479.50) rotate(-45)"><text x="0" y="0" font-size="17.5" fill="#222" text-anchor="end" textLength="120.0" lengthAdjust="spacingAndGlyphs">[111In]In-IgG</text></g>
<rect x="324.55" y="1417.82" width="13.70" height="33.98" fill="#ffffff" stroke="#1a1a1a" stroke-width="1.5"/>
<g transform="translate(338.15,1402.77) rotate(-90)"><text x="0" y="0" font-size="19.3" fill="#3a3a3a" textLength="43.60" lengthAdjust="spacingAndGlyphs">4225</text></g>
<rect x="343.15" y="1432.72" width="13.70" height="19.08" fill="#808080" stroke="#1a1a1a" stroke-width="1.5"/>
<g transform="translate(356.75,1417.67) rotate(-90)"><text x="0" y="0" font-size="19.3" fill="#3a3a3a" textLength="43.60" lengthAdjust="spacingAndGlyphs">2412</text></g>
<rect x="361.75" y="1446.09" width="13.70" height="5.71" fill="#000000" stroke="#1a1a1a" stroke-width="1.5"/>
<g transform="translate(375.35,1431.04) rotate(-90)"><text x="0" y="0" font-size="19.3" fill="#3a3a3a" textLength="32.70" lengthAdjust="spacingAndGlyphs">786</text></g>
<g transform="translate(355.50,1479.50) rotate(-45)"><text x="0" y="0" font-size="17.5" fill="#222" text-anchor="end" textLength="280.0" lengthAdjust="spacingAndGlyphs">[111In]In-trastuzumab-NLS5-10</text></g>
<rect x="407.20" y="1427.09" width="13.70" height="24.71" fill="#ffffff" stroke="#1a1a1a" stroke-width="1.5"/>
<g transform="translate(420.80,1412.04) rotate(-90)"><text x="0" y="0" font-size="19.3" fill="#3a3a3a" textLength="43.60" lengthAdjust="spacingAndGlyphs">3097</text></g>
<rect x="425.80" y="1440.04" width="13.70" height="11.76" fill="#808080" stroke="#1a1a1a" stroke-width="1.5"/>
<g transform="translate(439.40,1424.99) rotate(-90)"><text x="0" y="0" font-size="19.3" fill="#3a3a3a" textLength="43.60" lengthAdjust="spacingAndGlyphs">1522</text></g>
<rect x="444.40" y="1449.33" width="13.70" height="2.47" fill="#000000" stroke="#1a1a1a" stroke-width="1.5"/>
<g transform="translate(458.00,1434.28) rotate(-90)"><text x="0" y="0" font-size="19.3" fill="#3a3a3a" textLength="32.70" lengthAdjust="spacingAndGlyphs">392</text></g>
<g transform="translate(438.15,1479.50) rotate(-45)"><text x="0" y="0" font-size="17.5" fill="#222" text-anchor="end" textLength="200.0" lengthAdjust="spacingAndGlyphs">[111In]In-IgG-NLS5-10</text></g>
<rect x="489.85" y="1429.17" width="13.70" height="22.63" fill="#ffffff" stroke="#1a1a1a" stroke-width="1.5"/>
<g transform="translate(503.45,1414.12) rotate(-90)"><text x="0" y="0" font-size="19.3" fill="#3a3a3a" textLength="43.60" lengthAdjust="spacingAndGlyphs">2844</text></g>
<rect x="508.45" y="1437.80" width="13.70" height="14.00" fill="#808080" stroke="#1a1a1a" stroke-width="1.5"/>
<g transform="translate(522.05,1422.75) rotate(-90)"><text x="0" y="0" font-size="19.3" fill="#3a3a3a" textLength="43.60" lengthAdjust="spacingAndGlyphs">1795</text></g>
<rect x="527.05" y="1449.25" width="13.70" height="2.55" fill="#000000" stroke="#1a1a1a" stroke-width="1.5"/>
<g transform="translate(540.65,1434.20) rotate(-90)"><text x="0" y="0" font-size="19.3" fill="#3a3a3a" textLength="32.70" lengthAdjust="spacingAndGlyphs">401</text></g>
<g transform="translate(520.80,1479.50) rotate(-45)"><text x="0" y="0" font-size="17.5" fill="#222" text-anchor="end" textLength="276.0" lengthAdjust="spacingAndGlyphs">[111In]In-trastuzumab-TAT1-3</text></g>
<rect x="572.50" y="1440.17" width="13.70" height="11.63" fill="#ffffff" stroke="#1a1a1a" stroke-width="1.5"/>
<g transform="translate(586.10,1425.12) rotate(-90)"><text x="0" y="0" font-size="19.3" fill="#3a3a3a" textLength="43.60" lengthAdjust="spacingAndGlyphs">1506</text></g>
<rect x="591.10" y="1449.12" width="13.70" height="2.68" fill="#808080" stroke="#1a1a1a" stroke-width="1.5"/>
<g transform="translate(604.70,1434.07) rotate(-90)"><text x="0" y="0" font-size="19.3" fill="#3a3a3a" textLength="32.70" lengthAdjust="spacingAndGlyphs">417</text></g>
<rect x="609.70" y="1447.97" width="13.70" height="3.83" fill="#000000" stroke="#1a1a1a" stroke-width="1.5"/>
<g transform="translate(623.30,1432.92) rotate(-90)"><text x="0" y="0" font-size="19.3" fill="#3a3a3a" textLength="32.70" lengthAdjust="spacingAndGlyphs">557</text></g>
<g transform="translate(603.45,1479.50) rotate(-45)"><text x="0" y="0" font-size="17.5" fill="#222" text-anchor="end" textLength="188.0" lengthAdjust="spacingAndGlyphs">[111In]In-IgG-TAT1-3</text></g>
<rect x="803.15" y="1353.46" width="13.90" height="98.34" fill="#ffffff" stroke="#1a1a1a" stroke-width="1.5"/>
<g transform="translate(816.85,1338.41) rotate(-90)"><text x="0" y="0" font-size="19.3" fill="#3a3a3a" textLength="59.70" lengthAdjust="spacingAndGlyphs">12,704</text></g>
<rect x="821.35" y="1402.47" width="13.90" height="49.33" fill="#808080" stroke="#1a1a1a" stroke-width="1.5"/>
<g transform="translate(835.05,1387.42) rotate(-90)"><text x="0" y="0" font-size="19.3" fill="#3a3a3a" textLength="43.60" lengthAdjust="spacingAndGlyphs">6420</text></g>
<rect x="839.55" y="1440.83" width="13.90" height="10.97" fill="#000000" stroke="#1a1a1a" stroke-width="1.5"/>
<g transform="translate(853.25,1425.78) rotate(-90)"><text x="0" y="0" font-size="19.3" fill="#3a3a3a" textLength="43.60" lengthAdjust="spacingAndGlyphs">1503</text></g>
<g transform="translate(832.80,1479.00) rotate(-45)"><text x="0" y="0" font-size="17.5" fill="#222" text-anchor="end" textLength="204.0" lengthAdjust="spacingAndGlyphs">[111In]In-trastuzumab</text></g>
<rect x="883.35" y="1449.35" width="13.90" height="2.45" fill="#ffffff" stroke="#1a1a1a" stroke-width="1.5"/>
<g transform="translate(897.05,1434.30) rotate(-90)"><text x="0" y="0" font-size="19.3" fill="#3a3a3a" textLength="32.70" lengthAdjust="spacingAndGlyphs">410</text></g>
<rect x="901.55" y="1451.28" width="13.90" height="0.60" fill="#808080" stroke="#1a1a1a" stroke-width="1.5"/>
<g transform="translate(915.25,1436.23) rotate(-90)"><text x="0" y="0" font-size="19.3" fill="#3a3a3a" textLength="32.70" lengthAdjust="spacingAndGlyphs">163</text></g>
<rect x="919.75" y="1452.17" width="13.90" height="0.60" fill="#000000" stroke="#1a1a1a" stroke-width="1.5"/>
<g transform="translate(933.45,1437.12) rotate(-90)"><text x="0" y="0" font-size="19.3" fill="#3a3a3a" textLength="21.80" lengthAdjust="spacingAndGlyphs">49</text></g>
<g transform="translate(913.00,1479.00) rotate(-45)"><text x="0" y="0" font-size="17.5" fill="#222" text-anchor="end" textLength="123.0" lengthAdjust="spacingAndGlyphs">[111In]In-IgG</text></g>
<rect x="963.55" y="1269.55" width="13.90" height="182.25" fill="#ffffff" stroke="#1a1a1a" stroke-width="1.5"/>
<g transform="translate(977.25,1254.50) rotate(-90)"><text x="0" y="0" font-size="19.3" fill="#3a3a3a" textLength="59.70" lengthAdjust="spacingAndGlyphs">23,461</text></g>
<rect x="981.75" y="1333.52" width="13.90" height="118.28" fill="#808080" stroke="#1a1a1a" stroke-width="1.5"/>
<g transform="translate(995.45,1318.47) rotate(-90)"><text x="0" y="0" font-size="19.3" fill="#3a3a3a" textLength="59.70" lengthAdjust="spacingAndGlyphs">15,260</text></g>
<rect x="999.95" y="1429.27" width="13.90" height="22.53" fill="#000000" stroke="#1a1a1a" stroke-width="1.5"/>
<g transform="translate(1013.65,1414.22) rotate(-90)"><text x="0" y="0" font-size="19.3" fill="#3a3a3a" textLength="43.60" lengthAdjust="spacingAndGlyphs">2985</text></g>
<g transform="translate(993.20,1479.00) rotate(-45)"><text x="0" y="0" font-size="17.5" fill="#222" text-anchor="end" textLength="280.0" lengthAdjust="spacingAndGlyphs">[111In]In-trastuzumab-NLS5-10</text></g>
<rect x="1043.75" y="1334.01" width="13.90" height="117.79" fill="#ffffff" stroke="#1a1a1a" stroke-width="1.5"/>
<g transform="translate(1057.45,1318.96) rotate(-90)"><text x="0" y="0" font-size="19.3" fill="#3a3a3a" textLength="59.70" lengthAdjust="spacingAndGlyphs">15,197</text></g>
<rect x="1061.95" y="1396.34" width="13.90" height="55.46" fill="#808080" stroke="#1a1a1a" stroke-width="1.5"/>
<g transform="translate(1075.65,1381.29) rotate(-90)"><text x="0" y="0" font-size="19.3" fill="#3a3a3a" textLength="43.60" lengthAdjust="spacingAndGlyphs">7207</text></g>
<rect x="1080.15" y="1445.16" width="13.90" height="6.64" fill="#000000" stroke="#1a1a1a" stroke-width="1.5"/>
<g transform="translate(1093.85,1430.11) rotate(-90)"><text x="0" y="0" font-size="19.3" fill="#3a3a3a" textLength="32.70" lengthAdjust="spacingAndGlyphs">947</text></g>
<g transform="translate(1073.40,1479.00) rotate(-45)"><text x="0" y="0" font-size="17.5" fill="#222" text-anchor="end" textLength="193.0" lengthAdjust="spacingAndGlyphs">[111In]In-IgG-NLS5-10</text></g>
<rect x="1123.95" y="1343.91" width="13.90" height="107.89" fill="#ffffff" stroke="#1a1a1a" stroke-width="1.5"/>
<g transform="translate(1137.65,1328.86) rotate(-90)"><text x="0" y="0" font-size="19.3" fill="#3a3a3a" textLength="59.70" lengthAdjust="spacingAndGlyphs">13,928</text></g>
<rect x="1142.15" y="1395.13" width="13.90" height="56.67" fill="#808080" stroke="#1a1a1a" stroke-width="1.5"/>
<g transform="translate(1155.85,1380.08) rotate(-90)"><text x="0" y="0" font-size="19.3" fill="#3a3a3a" textLength="43.60" lengthAdjust="spacingAndGlyphs">7362</text></g>
<rect x="1160.35" y="1436.26" width="13.90" height="15.54" fill="#000000" stroke="#1a1a1a" stroke-width="1.5"/>
<g transform="translate(1174.05,1421.21) rotate(-90)"><text x="0" y="0" font-size="19.3" fill="#3a3a3a" textLength="43.60" lengthAdjust="spacingAndGlyphs">2088</text></g>
<g transform="translate(1153.60,1479.00) rotate(-45)"><text x="0" y="0" font-size="17.5" fill="#222" text-anchor="end" textLength="264.0" lengthAdjust="spacingAndGlyphs">[111In]In-trastuzumab-TAT1-3</text></g>
<rect x="1204.15" y="1423.14" width="13.90" height="28.66" fill="#ffffff" stroke="#1a1a1a" stroke-width="1.5"/>
<g transform="translate(1217.85,1408.09) rotate(-90)"><text x="0" y="0" font-size="19.3" fill="#3a3a3a" textLength="43.60" lengthAdjust="spacingAndGlyphs">3770</text></g>
<rect x="1222.35" y="1445.15" width="13.90" height="6.65" fill="#808080" stroke="#1a1a1a" stroke-width="1.5"/>
<g transform="translate(1236.05,1430.10) rotate(-90)"><text x="0" y="0" font-size="19.3" fill="#3a3a3a" textLength="32.70" lengthAdjust="spacingAndGlyphs">949</text></g>
<rect x="1240.55" y="1440.66" width="13.90" height="11.14" fill="#000000" stroke="#1a1a1a" stroke-width="1.5"/>
<g transform="translate(1254.25,1425.61) rotate(-90)"><text x="0" y="0" font-size="19.3" fill="#3a3a3a" textLength="43.60" lengthAdjust="spacingAndGlyphs">1524</text></g>
<g transform="translate(1233.80,1479.00) rotate(-45)"><text x="0" y="0" font-size="17.5" fill="#222" text-anchor="end" textLength="185.0" lengthAdjust="spacingAndGlyphs">[111In]In-IgG-TAT1-3</text></g>
<text x="58.82" y="1214.40" font-size="22.5" fill="#333" textLength="70.38" lengthAdjust="spacingAndGlyphs">30,000</text>
<text x="56.64" y="1296.60" font-size="22.5" fill="#333" textLength="70.66" lengthAdjust="spacingAndGlyphs">20,000</text>
<text x="56.09" y="1381.80" font-size="22.5" fill="#333" textLength="68.58" lengthAdjust="spacingAndGlyphs">10,000</text>
<text x="109.13" y="1462.30" font-size="19.3" fill="#333" textLength="12.33" lengthAdjust="spacingAndGlyphs">0</text>
<text x="703.33" y="1229.00" font-size="22" fill="#333" textLength="70.07" lengthAdjust="spacingAndGlyphs">30,000</text>
<text x="704.23" y="1301.80" font-size="22" fill="#333" textLength="71.18" lengthAdjust="spacingAndGlyphs">20,000</text>
<text x="704.43" y="1375.90" font-size="22" fill="#333" textLength="70.97" lengthAdjust="spacingAndGlyphs">10,000</text>
<text x="753.45" y="1461.20" font-size="19.3" fill="#333" textLength="12.10" lengthAdjust="spacingAndGlyphs">0</text>
<rect x="175.05" y="1705.05" width="12.60" height="10.90" fill="#fff" stroke="#1a1a1a" stroke-width="1.5"/>
<text x="194.17" y="1716.40" font-size="19.5" fill="#222" textLength="38.32" lengthAdjust="spacingAndGlyphs">Cell</text>
<rect x="248.35" y="1705.05" width="13.40" height="10.90" fill="#808080" stroke="#1a1a1a" stroke-width="1.5"/>
<text x="268.38" y="1716.40" font-size="19.5" fill="#222" textLength="124.79" lengthAdjust="spacingAndGlyphs">Extranuclear</text>
<rect x="411.45" y="1705.05" width="12.30" height="10.90" fill="#000" stroke="#1a1a1a" stroke-width="1.5"/>
<text x="429.49" y="1716.40" font-size="19.5" fill="#222" textLength="79.81" lengthAdjust="spacingAndGlyphs">Nucleus</text>
<rect x="788.35" y="1711.55" width="12.60" height="10.90" fill="#fff" stroke="#1a1a1a" stroke-width="1.5"/>
<text x="807.06" y="1722.90" font-size="19.5" fill="#222" textLength="38.64" lengthAdjust="spacingAndGlyphs">Cell</text>
<rect x="862.75" y="1711.55" width="12.70" height="10.90" fill="#808080" stroke="#1a1a1a" stroke-width="1.5"/>
<text x="881.38" y="1722.90" font-size="19.5" fill="#222" textLength="124.59" lengthAdjust="spacingAndGlyphs">Extranuclear</text>
<rect x="1024.15" y="1711.55" width="12.70" height="10.90" fill="#000" stroke="#1a1a1a" stroke-width="1.5"/>
<text x="1042.16" y="1722.90" font-size="19.5" fill="#222" textLength="81.15" lengthAdjust="spacingAndGlyphs">Nucleus</text>
</svg></body></html>
